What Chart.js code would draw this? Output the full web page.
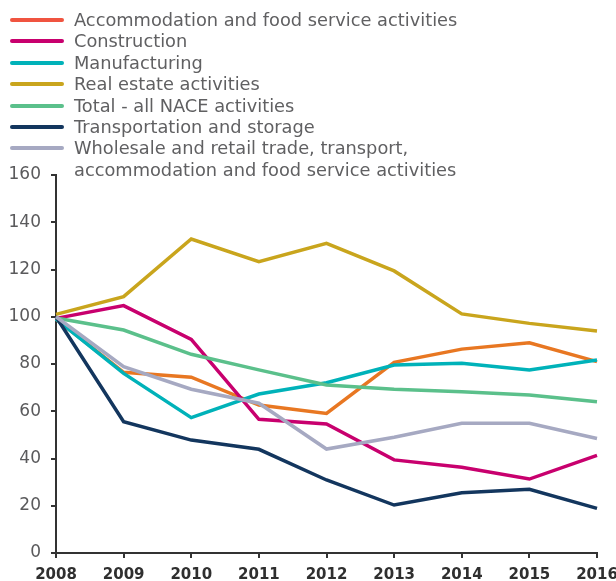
<!DOCTYPE html>
<html>
<head>
<meta charset="utf-8">
<script src="https://cdn.jsdelivr.net/npm/chart.js@4/dist/chart.umd.min.js"></script>
<style>
  body { margin: 0; background: #fff; }
  #wrap { position: relative; width: 616px; height: 581px; }
  #legend { position: absolute; left: 10px; top: 9px; font-family: "DejaVu Sans", sans-serif; font-weight: 400; font-size: 17.8px; color: #606062; line-height: 21.4px; }
  .item { display: flex; align-items: flex-start; }
  .swatch { width: 54px; height: 4px; border-radius: 2px; margin-top: 9px; margin-right: 10px; flex: none; }
</style>
</head>
<body>
<div id="wrap">
  <canvas id="chart" width="616" height="581"></canvas>
  <div id="legend"></div>
</div>
<script>
var years = ['2008', '2009', '2010', '2011', '2012', '2013', '2014', '2015', '2016'];

var names = [
  'Accommodation and food service activities',
  'Construction',
  'Manufacturing',
  'Real estate activities',
  'Total - all NACE activities',
  'Transportation and storage',
  'Wholesale and retail trade, transport,<br>accommodation and food service activities'
];

var accommodation = [99, 76.5, 74.4, 62.6, 59.1, 80.7, 86.3, 89, 81];
var construction = [99.3, 104.7, 90.4, 56.6, 54.6, 39.4, 36.3, 31.3, 41.3];
var manufacturing = [99, 76, 57.3, 67.3, 72.1, 79.6, 80.3, 77.5, 81.7];
var realEstate = [101, 108.5, 132.9, 123.3, 131.1, 119.4, 101.2, 97.2, 94];
var total = [99.5, 94.4, 84.1, 77.5, 71.1, 69.3, 68.3, 66.9, 64];
var transport = [100, 55.6, 47.8, 43.9, 30.9, 20.3, 25.5, 27, 18.9];
var wholesale = [100, 78.9, 69.3, 63.4, 44, 49, 54.9, 54.9, 48.5];

var lineColors = ['#e87722', '#c8006e', '#00b2b9', '#c9a51d', '#5bc08b', '#13365e', '#a6a9c2'];
var legendColors = ['#f05440', '#c8006e', '#00b2b9', '#c9a51d', '#5bc08b', '#13365e', '#a6a9c2'];

var series = [accommodation, construction, manufacturing, realEstate, total, transport, wholesale];

// legend
var leg = document.getElementById('legend');
for (var i = 0; i < names.length; i++) {
  var row = document.createElement('div');
  row.className = 'item';
  row.innerHTML = '<span class="swatch" style="background:' + legendColors[i] + '"></span><span>' + names[i] + '</span>';
  leg.appendChild(row);
}

var datasets = [];
for (var j = 0; j < series.length; j++) {
  datasets.push({
    label: names[j],
    data: series[j],
    borderColor: lineColors[j],
    backgroundColor: lineColors[j],
    borderWidth: 3.5,
    pointRadius: 0,
    tension: 0,
    fill: false
  });
}
// first dataset drawn on top
datasets.reverse();

var ctx = document.getElementById('chart');

new Chart(ctx, {
  type: 'line',
  data: {
    labels: years,
    datasets: datasets
  },
  options: {
    responsive: false,
    animation: false,
    layout: { padding: { top: 175, right: 19, left: 0, bottom: 0 } },
    plugins: {
      legend: { display: false },
      tooltip: { enabled: false }
    },
    scales: {
      x: {
        offset: false,
        grid: { drawOnChartArea: false, drawTicks: true, tickLength: 5, color: '#333', lineWidth: 2 },
        border: { color: '#333', width: 2 },
        ticks: { color: '#2f2f2f', font: { family: 'DejaVu Sans', weight: 'bold', size: 15 }, padding: 8, maxRotation: 0, autoSkip: false },
        afterFit: function (scale) {
          scale.height = 28;
          scale.paddingRight = 0;
          scale.paddingLeft = 0;
        }
      },
      y: {
        min: 0,
        max: 160,
        grid: { drawOnChartArea: false, drawTicks: true, tickLength: 5, color: '#333', lineWidth: 2 },
        border: { color: '#333', width: 2 },
        ticks: { stepSize: 20, color: '#5a5a5c', font: { family: 'DejaVu Sans', size: 17 }, padding: 10 },
        afterFit: function (scale) { scale.width = 56; }
      }
    }
  }
});
</script>
</body>
</html>
